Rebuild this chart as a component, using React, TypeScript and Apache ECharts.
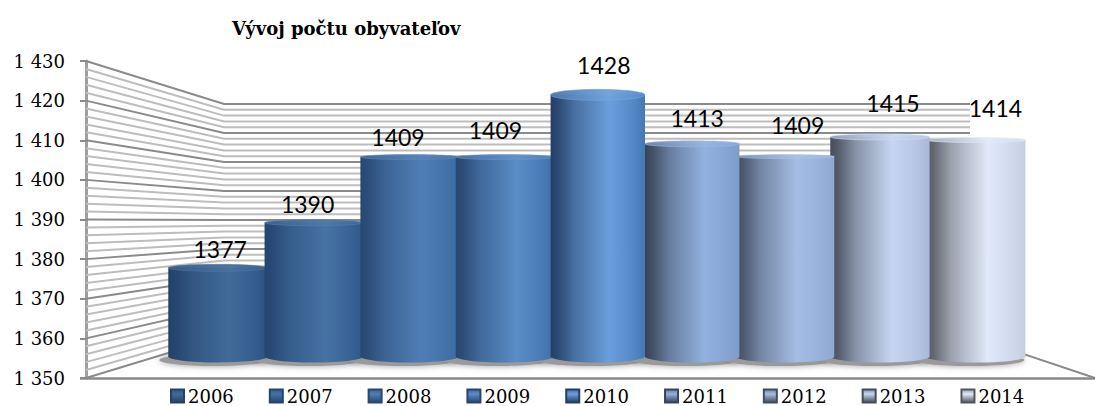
import React, { useEffect, useRef } from "react";
import * as echarts from "echarts";

const titleText = "Vývoj počtu obyvateľov";
const years = ["2006", "2007", "2008", "2009", "2010", "2011", "2012", "2013", "2014"];
const population = [1377, 1390, 1409, 1409, 1428, 1413, 1409, 1415, 1414];
const gridValues = [
  1350, 1352, 1354, 1356, 1358, 1360, 1362, 1364, 1366, 1368, 1370, 1372, 1374, 1376, 1378, 1380, 1382,
  1384, 1386, 1388, 1390, 1392, 1394, 1396, 1398, 1400, 1402, 1404, 1406, 1408, 1410, 1412, 1414, 1416,
  1418, 1420, 1422, 1424, 1426, 1428, 1430,
];

// styling of each cylinder
const palette = [
  ["#23426a", "#426b9a", "#2b5282"],
  ["#254570", "#4672a4", "#2e588c"],
  ["#284872", "#4f7eb6", "#3a6aa0"],
  ["#284670", "#5a8cc6", "#3d70ab"],
  ["#243f66", "#6a9edc", "#4478b5"],
  ["#384458", "#92b1df", "#7c9ccc"],
  ["#414c5e", "#a5bde5", "#8ea8d2"],
  ["#464c5a", "#c6d6f2", "#a8b8d8"],
  ["#53565d", "#e0e9fa", "#c6cfe2"],
];
const topDepth = [3.5, 3, 2.5, 2.5, 5.5, 3, 2, 3, 2.5];
const labelDX = [0, -7, -11, -8, 6, 5, 11, 12, 20];
const labelDY = [-15, -16, -17.6, -24.6, -24.5, -23, -29.6, -31, -29.5];

const FRONT_X = 86, BACK_L = 224, BACK_R = 970, END_X = 1095;
const FRONT_Y0 = 378, AXIS_H = 317;
const BACK_Y0 = 336, BACK_H = 232;
const MID_Y0 = 357, MID_H = 274.5;
const VANISH_X = 645;

const backY = (y: number) => BACK_Y0 - ((FRONT_Y0 - y) * BACK_H) / AXIS_H;
const midY = (y: number) => MID_Y0 - ((FRONT_Y0 - y) * MID_H) / AXIS_H;
const spread = (x: number) => {
  const d = x - VANISH_X;
  return VANISH_X + d * (1 + 0.0000265 * (Math.abs(d) - 94.4));
};
const hex = (c: string) => [1, 3, 5].map((p) => parseInt(c.slice(p, p + 2), 16));
const mix = (a: string, b: string, t: number) => {
  const A = hex(a), B = hex(b);
  return `rgb(${A.map((v, k) => Math.round(v + (B[k] - v) * t)).join(",")})`;
};
const sideFill = (p: string[]) => ({
  type: "linear", x: 0, y: 0, x2: 1, y2: 0,
  colorStops: [
    { offset: 0, color: p[0] },
    { offset: 0.08, color: mix(p[0], p[1], 0.12) },
    { offset: 0.25, color: mix(p[0], p[1], 0.5) },
    { offset: 0.62, color: p[1] },
    { offset: 0.88, color: mix(p[1], p[2], 0.6) },
    { offset: 1, color: p[2] },
  ],
});
const capFill = (p: string[]) => ({
  type: "linear", x: 0, y: 0, x2: 1, y2: 0,
  colorStops: [
    { offset: 0, color: mix(p[0], p[1], 0.6) },
    { offset: 0.62, color: mix(p[1], "#ffffff", 0.04) },
    { offset: 1, color: mix(p[2], p[1], 0.5) },
  ],
});
const iconFill = (p: string[]) => ({
  type: "linear", x: 0, y: 0, x2: 0, y2: 1,
  colorStops: [
    { offset: 0, color: mix(p[0], p[1], 0.5) },
    { offset: 0.35, color: p[1] },
    { offset: 0.6, color: mix(p[0], p[1], 0.6) },
    { offset: 1, color: p[0] },
  ],
});

const barRender = (i: number) => (_: any, api: any) => {
  const value = api.value(1);
  const c = api.coord([i, value]);
  const band = api.size([1, 0])[0];
  let x0 = spread(c[0] - band / 2);
  let x1 = spread(c[0] + band / 2);
  if (i < 4) x1 += 3;
  if (i > 5) x0 -= 4;
  const topEdge = midY(c[1]);
  const ry = topDepth[i];
  const cy = topEdge + ry;
  const baseY = 356.5;
  const rx = (x1 - x0) / 2;
  const cx = (x0 + x1) / 2;
  return {
    type: "group",
    children: [
      {
        type: "ellipse",
        shape: { cx, cy: baseY, rx, ry: 6 },
        style: { fill: sideFill(palette[i]) },
      },
      {
        type: "rect",
        shape: { x: x0, y: cy, width: x1 - x0, height: baseY - cy },
        style: { fill: sideFill(palette[i]) },
      },
      {
        type: "ellipse",
        shape: { cx, cy, rx, ry },
        style: { fill: capFill(palette[i]), stroke: mix(palette[i][1], "#ffffff", 0.1), lineWidth: 0.6, opacity: 0.97 },
      },
      {
        type: "text",
        x: c[0] + labelDX[i],
        y: topEdge + labelDY[i],
        style: {
          text: String(value),
          fill: "#000000",
          font: "23px Lato",
          align: "center",
          verticalAlign: "middle",
        },
      },
    ],
  };
};

const wallRender = (_: any, api: any) => {
  const v = api.value(0);
  const y = api.coord([0, v])[1];
  const major = v % 10 === 0;
  const pts: number[][] = [[FRONT_X, y], [BACK_L, backY(y)], [BACK_R, backY(y)]];
  if (v === 1350) pts.push([END_X, FRONT_Y0]);
  const children: any[] = [
    {
      type: "polyline",
      shape: { points: pts },
      style: { fill: "none", stroke: major ? "#8a8a8a" : "#bdbdbd", lineWidth: 2 },
    },
  ];
  if (v === 1350) {
    children.push({
      type: "line",
      shape: { x1: 80, y1: FRONT_Y0 + 0.5, x2: END_X, y2: FRONT_Y0 + 0.5 },
      style: { stroke: "#8a8a8a", lineWidth: 2.5 },
    });
  }
  return { type: "group", children };
};

const shadowRender = (_: any, api: any) => {
  const i = api.value(0);
  const c = api.coord([i, population[i]]);
  return {
    type: "ellipse",
    shape: { cx: c[0] - 6, cy: 360, rx: 55, ry: 6 },
    style: { fill: "#9a9a9a", shadowBlur: 6, shadowColor: "rgba(110,110,110,0.7)" },
  };
};

export default function App() {
  const ref = useRef<HTMLDivElement>(null);
  useEffect(() => {
    document.body.style.margin = "0";
    const chart = echarts.init(ref.current!, null, { renderer: "svg" });
    chart.setOption({
      animation: false,
      backgroundColor: "#ffffff",
      title: {
        text: titleText,
        left: 232,
        top: 19,
        padding: 0,
        textStyle: { fontFamily: "DejaVu Serif", fontWeight: "bold", fontSize: 18, color: "#000000" },
      },
      legend: {
        data: years,
        left: 170,
        top: 387,
        padding: 0,
        itemWidth: 13,
        itemHeight: 13,
        itemGap: 35,
        icon: "rect",
        selectedMode: false,
        textStyle: { fontFamily: "DejaVu Serif", fontSize: 18, color: "#000000", padding: [0, 0, 0, -1] },
      },
      grid: { left: 173, top: 61, width: 849.6, height: AXIS_H },
      xAxis: { type: "category", data: years, show: false },
      yAxis: {
        type: "value",
        min: 1350,
        max: 1430,
        interval: 10,
        offset: 87,
        splitLine: { show: false },
        axisLine: { show: true, lineStyle: { color: "#a0a0a0", width: 3 } },
        axisTick: { show: true, length: 6, lineStyle: { color: "#8a8a8a", width: 2 } },
        axisLabel: {
          margin: 21,
          padding: [5, 0, 0, 0],
          fontFamily: "DejaVu Serif",
          fontSize: 18,
          color: "#000000",
          formatter: (v: number) => String(v).replace(/(\d)(\d{3})$/, "$1 $2"),
        },
      },
      series: [
        {
          type: "custom",
          name: "walls",
          z: 1,
          data: gridValues.map((v) => [v]),
          encode: { y: 0 },
          renderItem: wallRender,
          silent: true,
        },
        {
          type: "custom",
          name: "shadow",
          z: 2,
          data: years.map((_, i) => [i]),
          renderItem: shadowRender,
          silent: true,
        },
        ...years.map((y, i) => ({
          type: "custom",
          name: y,
          z: 10 - Math.abs(i - 4.5),
          data: [[i, population[i]]],
          encode: { x: 0, y: 1 },
          itemStyle: { color: iconFill(palette[i]), borderColor: palette[i][0], borderWidth: 1 },
          renderItem: barRender(i),
        })),
      ],
    });
    return () => chart.dispose();
  }, []);
  return <div ref={ref} style={{ width: 1097, height: 406 }} />;
}
